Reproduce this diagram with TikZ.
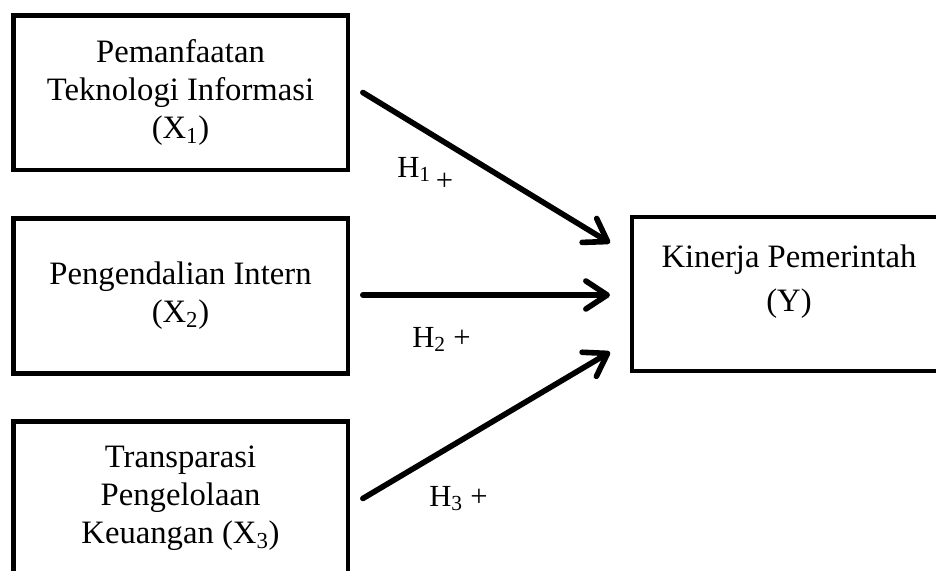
\documentclass[tikz,border=0pt]{standalone}
\usepackage{fontspec}
\setmainfont{Liberation Serif}
\usetikzlibrary{arrows.meta,calc}

\tikzset{
  varbox/.style={draw, line width=3.5pt, outer sep=0pt, align=center,
    minimum width=251pt, minimum height=116pt,
    font=\fontsize{24.5}{28.5}\selectfont},
  hyp/.style={line width=4.2pt, line cap=round,
    -{Straight Barb[length=16pt,width=21pt,line cap=round,line join=round]}},
  hlabel/.style={anchor=base west, inner sep=0pt, font=\fontsize{23}{27}\selectfont}
}

\begin{document}
\begin{tikzpicture}[x=0.75pt,y=0.75pt,yscale=-1,xscale=1]
\clip (0,0) rectangle (936,571);

% Variable boxes
\node[varbox] (x1) at (180.5,92.5) {Pemanfaatan\\Teknologi Informasi\\(X\textsubscript{1})};
\node[varbox] (x2) at (180.5,296) {Pengendalian Intern\\(X\textsubscript{2})};
\node[varbox] (x3) at (180.5,498.5) {Transparasi\\Pengelolaan\\Keuangan (X\textsubscript{3})};
\node[varbox, minimum width=235.5pt, minimum height=115.5pt] (y) at (789,294) {};
\node[align=center, font=\fontsize{24.5}{33}\selectfont] (ytext) at (789,282) {Kinerja Pemerintah\\(Y)};

% Hypothesis arrows
\draw[hyp] ($(x1.east)+(15,0)$) -- ($(y.west)+(-22,-51)$);
\draw[hyp] ($(x2.east)+(15,-1)$) -- ($(y.west)+(-22,1)$);
\draw[hyp] ($(x3.east)+(15,0)$) -- ($(y.west)+(-22,58)$);

% Labels
\node[hlabel] (h1) at (397,177) {H\textsubscript{1}\,\raisebox{-10pt}{+}};
\node[hlabel] (h2) at (412,347) {H\textsubscript{2} +};
\node[hlabel] (h3) at (429,506) {H\textsubscript{3} +};
\end{tikzpicture}
\end{document}
